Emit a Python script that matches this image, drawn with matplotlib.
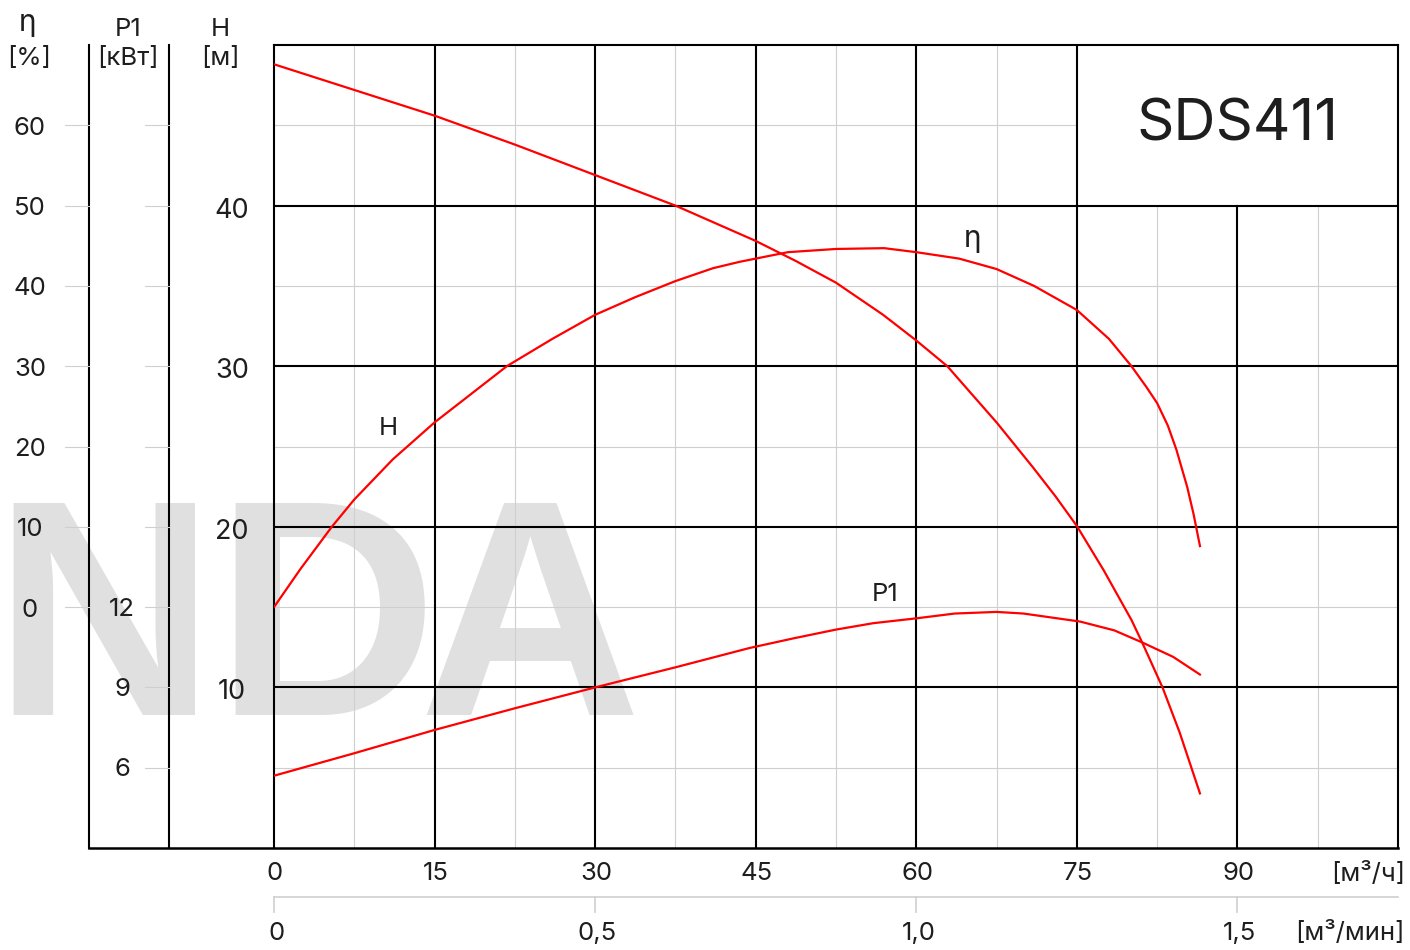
import numpy as np
import matplotlib
matplotlib.use("Agg")
import matplotlib.pyplot as plt
from matplotlib.transforms import blended_transform_factory as btf, offset_copy

plt.rcParams['font.family'] = ['Inter', 'DejaVu Sans']

# напор H, м
q_h = [0, 3.75, 7.5, 11.25, 15, 18.75, 22.5, 26.25, 30, 33.75, 37.5, 41.25, 45, 48.75, 52.5,
       56.9, 60, 62.9, 65, 67.5, 70.9, 73, 75, 77.5, 80.1, 81.1, 83.0, 84.6, 85.5, 86.5]
h_vals = [48.8, 48.0, 47.2, 46.4, 45.6, 44.7, 43.8, 42.85, 41.9, 40.95, 40.0, 38.9, 37.8, 36.55, 35.2,
          33.2, 31.6, 30.0, 28.4, 26.5, 23.7, 21.9, 20.05, 17.3, 14.2, 12.8, 10.0, 7.2, 5.4, 3.4]

# КПД, %
q_eta = [0, 2.5, 5.4, 7.5, 11.1, 15, 21.75, 26, 30, 33.75, 37.5, 41, 43.5, 48, 52.5, 57, 60,
         64, 67.5, 71, 75, 78, 80.1, 81.5, 82.5, 83.5, 84.3, 85.3, 85.9, 86.5]
eta_vals = [0, 4.8, 10.0, 13.4, 18.4, 23.0, 30.0, 33.4, 36.4, 38.6, 40.6, 42.2, 43.0, 44.2, 44.6, 44.7, 44.2,
            43.4, 42.1, 40.0, 37.0, 33.4, 30.0, 27.4, 25.4, 22.6, 19.6, 15.0, 11.6, 7.6]

# мощность P1, кВт
q_p = [0, 7.5, 15, 22.5, 30, 37.5, 44.4, 48.5, 52.5, 56, 60, 63.6, 67.5, 70, 75.3, 78.5, 81.1, 84, 86.5]
p_vals = [5.7, 6.54, 7.41, 8.22, 9.0, 9.75, 10.47, 10.83, 11.16, 11.4, 11.58, 11.76, 11.82, 11.76, 11.46,
          11.13, 10.68, 10.14, 9.48]

q_ticks = [0, 15, 30, 45, 60, 75, 90]
qmin_ticks = [0, 0.5, 1.0, 1.5]
qmin_labels = ['0', '0,5', '1,0', '1,5']
h_ticks = [10, 20, 30, 40]
eta_ticks = [0, 10, 20, 30, 40, 50, 60]
p_ticks = [6, 9, 12]
model = 'SDS411'

W, H = 1410, 950
RED = '#ff0000'
GRAY = '#cfcfcf'
TXT = '#1e1e1e'
FS = 18.5

fig = plt.figure(figsize=(W / 100, H / 100), dpi=100)
ax = fig.add_axes([274 / W, 1 - 848 / H, 1124 / W, 803 / H])
ax.set_xlim(0, 105)
ax.set_ylim(0, 50)
ax.set_facecolor('none')
ax.set_xticks([])
ax.set_yticks([])
for s in ax.spines.values():
    s.set_linewidth(1.5)
    s.set_color('black')
ax.spines['bottom'].set_visible(False)

# сетка (правый верхний угол занят табличкой)
for y in [5, 15, 25, 35]:
    ax.plot([0, 105], [y, y], color=GRAY, lw=0.8, zorder=1)
ax.plot([0, 75], [45, 45], color=GRAY, lw=0.8, zorder=1)
for x in np.arange(7.5, 75, 15):
    ax.plot([x, x], [0, 50], color=GRAY, lw=0.8, zorder=1)
for x in [82.5, 97.5]:
    ax.plot([x, x], [0, 40], color=GRAY, lw=0.8, zorder=1)
for y in [10, 20, 30, 40]:
    ax.plot([0, 105], [y, y], color='black', lw=1.5, zorder=2)
for x in [15, 30, 45, 60, 75]:
    ax.plot([x, x], [0, 50], color='black', lw=1.5, zorder=2)
ax.plot([90, 90], [0, 40], color='black', lw=1.5, zorder=2)

ax.text(90, 45, model, ha='center', va='center', fontsize=42, color=TXT)

# левые шкалы
ax_eta = ax.twinx()
ax_eta.set_ylim(-30, 70)
ax_p = ax.twinx()
ax_p.set_ylim(3, 33)
for a in (ax_eta, ax_p):
    a.set_yticks([])
    a.axis('off')

tr_h = btf(fig.transFigure, ax.transData)
tr_eta = btf(fig.transFigure, ax_eta.transData)
tr_p = btf(fig.transFigure, ax_p.transData)

for xf in [89 / W, 169 / W]:
    ax.plot([xf, xf], [0, 50], color='black', lw=1.5, transform=tr_h, clip_on=False)
ax.plot([89 / W, 1398 / W], [0, 0], color='black', lw=1.8, transform=tr_h, clip_on=False)

lab_eta = offset_copy(tr_eta, fig=fig, y=-3, units='dots')
lab_p = offset_copy(tr_p, fig=fig, y=-2, units='dots')
lab_h = offset_copy(tr_h, fig=fig, y=-5, units='dots')
for v in eta_ticks:
    ax_eta.plot([65 / W, 89 / W], [v, v], color=GRAY, lw=0.8, transform=tr_eta, clip_on=False)
    ax_eta.text(30 / W, v, str(v), ha='center', va='center', fontsize=FS, color=TXT, transform=lab_eta)
for v in np.arange(6, 31, 3):
    ax_p.plot([145 / W, 169 / W], [v, v], color=GRAY, lw=0.8, transform=tr_p, clip_on=False)
for v in p_ticks:
    ax_p.text(122 / W, v, str(v), ha='center', va='center', fontsize=FS, color=TXT, transform=lab_p)
for v in h_ticks:
    ax.text(232 / W, v, str(v), ha='center', va='center', fontsize=FS + 1, color=TXT, transform=lab_h)

fig.text(28 / W, 1 - 23 / H, 'η', ha='center', va='center', fontsize=FS + 3, color=TXT)
fig.text(29 / W, 1 - 58 / H, '[%]', ha='center', va='center', fontsize=FS, color=TXT)
fig.text(128 / W, 1 - 30 / H, 'P1', ha='center', va='center', fontsize=FS, color=TXT)
fig.text(128 / W, 1 - 58 / H, '[кВт]', ha='center', va='center', fontsize=FS, color=TXT)
fig.text(220 / W, 1 - 30 / H, 'H', ha='center', va='center', fontsize=FS, color=TXT)
fig.text(220 / W, 1 - 58 / H, '[м]', ha='center', va='center', fontsize=FS, color=TXT)

# ось подачи
tr_x = btf(ax.transData, fig.transFigure)
for v in q_ticks:
    ax.text(v + 0.1, 1 - 874 / H, str(v), ha='center', va='center', fontsize=FS, color=TXT, transform=tr_x)
fig.text(1405 / W, 1 - 874 / H, '[м³/ч]', ha='right', va='center', fontsize=FS, color=TXT)

ax.plot([0, 105], [1 - 897 / H, 1 - 897 / H], color=GRAY, lw=1.2, transform=tr_x, clip_on=False)
for v, lab in zip(qmin_ticks, qmin_labels):
    ax.plot([v * 60, v * 60], [1 - 897 / H, 1 - 912 / H], color=GRAY, lw=1.2, transform=tr_x, clip_on=False)
    ax.text(v * 60 + 0.2, 1 - 933 / H, lab, ha='center', va='center', fontsize=FS, color=TXT, transform=tr_x)
fig.text(1405 / W, 1 - 933 / H, '[м³/мин]', ha='right', va='center', fontsize=FS, color=TXT)

# кривые
ax.plot(q_h, h_vals, color=RED, lw=1.6, zorder=5)
ax_eta.plot(q_eta, eta_vals, color=RED, lw=1.6, zorder=5)
ax_p.plot(q_p, p_vals, color=RED, lw=1.6, zorder=5)
ax.text(10.7, 26.1, 'H', ha='center', va='center', fontsize=FS, color=TXT, zorder=6)
ax.text(65.3, 37.9, 'η', ha='center', va='center', fontsize=FS + 3, color=TXT, zorder=6)
ax.text(57.1, 15.8, 'P1', ha='center', va='center', fontsize=FS, color=TXT, zorder=6)

# водяной знак
for ch, xc in [('N', 104), ('D', 326), ('A', 530)]:
    fig.text(xc / W, 1 - 715 / H, ch, ha='center', va='baseline', fontsize=222,
             fontweight='bold', family='Liberation Sans', color='#e0e0e0', zorder=-1)

fig.savefig('out.png', dpi=100)
